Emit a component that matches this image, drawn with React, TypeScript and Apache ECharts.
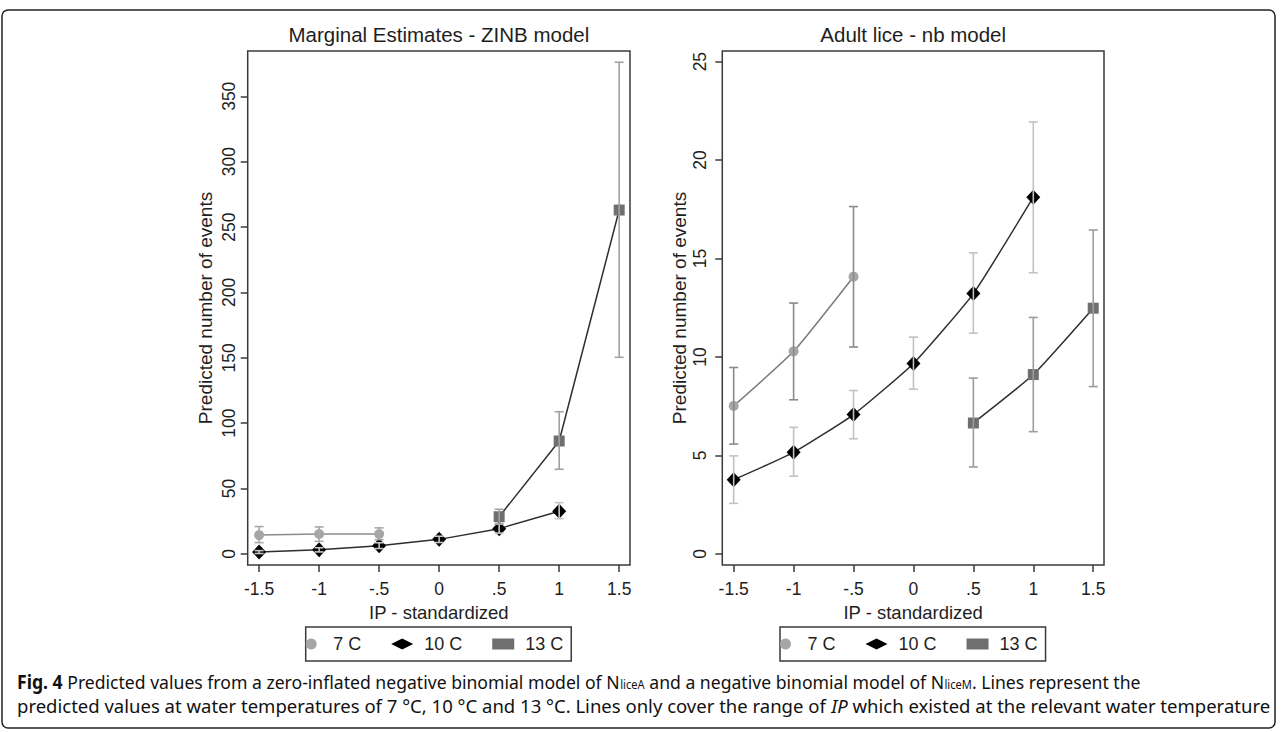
import React, { useEffect, useRef } from "react";
import * as echarts from "echarts";

// ---------- data ----------
const xValues = [-1.5, -1, -0.5, 0, 0.5, 1, 1.5];
const xTickLabels = ["-1.5", "-1", "-.5", "0", ".5", "1", "1.5"];
const leftYTicks = [0, 50, 100, 150, 200, 250, 300, 350];
const rightYTicks = [0, 5, 10, 15, 20, 25];
const seriesNames = ["7 C", "10 C", "13 C"];
const leftTitle = "Marginal Estimates - ZINB model";
const rightTitle = "Adult lice - nb model";
const xAxisName = "IP - standardized";
const yAxisName = "Predicted number of events";

// Marginal estimates - ZINB model
const zinb7 = [14.5, 15.3, 15.3, null, null, null, null];
const zinb7Low = [8.7, 9.7, 11.0, null, null, null, null];
const zinb7High = [21.0, 20.7, 20.0, null, null, null, null];
const zinb10 = [1.5, 3.2, 6.4, 11.2, 19.4, 32.7, null];
const zinb10Low = [0.4, 1.6, 4.2, 8.8, 16.0, 27.0, null];
const zinb10High = [2.6, 4.8, 8.6, 13.6, 22.8, 39.3, null];
const zinb13 = [null, null, null, null, 28.5, 86.4, 263.0];
const zinb13Low = [null, null, null, null, 23.0, 64.8, 150.4];
const zinb13High = [null, null, null, null, 34.2, 108.8, 376.0];

// Adult lice - nb model
const nb7 = [7.52, 10.29, 14.08, null, null, null, null];
const nb7Low = [5.58, 7.83, 10.51, null, null, null, null];
const nb7High = [9.47, 12.74, 17.64, null, null, null, null];
const nb10 = [3.77, 5.16, 7.08, 9.67, 13.22, 18.12, null];
const nb10Low = [2.57, 3.95, 5.85, 8.37, 11.21, 14.28, null];
const nb10High = [4.98, 6.43, 8.3, 11.01, 15.29, 21.94, null];
const nb13 = [null, null, null, null, 6.65, 9.11, 12.48];
const nb13Low = [null, null, null, null, 4.42, 6.21, 8.5];
const nb13High = [null, null, null, null, 8.93, 12.01, 16.45];

const captionBold = "Fig. 4";
const captionLine1 =
  "{b|Fig. 4} Predicted values from a zero-inflated negative binomial model of N{s|liceA} and a negative binomial model of N{s|liceM}. Lines represent the";
const captionLine2 =
  "predicted values at water temperatures of 7 °C, 10 °C and 13 °C. Lines only cover the range of {i|IP} which existed at the relevant water temperature";

// ---------- helpers ----------
const pts = (vals: (number | null)[]) =>
  xValues.map((x, i) => [x, vals[i]]).filter((p) => p[1] != null);
const cis = (lo: (number | null)[], hi: (number | null)[]) =>
  xValues.map((x, i) => [x, lo[i], hi[i]]).filter((p) => p[1] != null);

const FONT = "'Liberation Sans', Arial, Helvetica, sans-serif";
const CAP_FAMILY = "'Noto Sans', 'Open Sans', sans-serif";
const FRAME = "#3a3a3a";
const TXT = "#1e1e1e";

const symbols = ["circle", "diamond", "rect"];
const symbolSizes: any[] = [10, [14, 15], 11];
const markerColors = ["#a6a6a6", "#000000", "#6f6f6f"];
const lineColorsLeft = ["#8c8c8c", "#2e2e2e", "#2e2e2e"];
const lineColorsRight = ["#7a7a7a", "#2e2e2e", "#2e2e2e"];
const ciColorsLeft = ["#a8a8a8", "#c6c6c6", "#a2a2a2"];
const ciColorsRight = ["#8a8a8a", "#c2c2c2", "#9c9c9c"];

function lineSeries(k: number, vals: (number | null)[], axis: number, lineColor: string, smooth: number) {
  return {
    type: "line",
    name: seriesNames[k],
    xAxisIndex: axis,
    yAxisIndex: axis,
    data: pts(vals),
    symbol: symbols[k],
    symbolSize: symbolSizes[k],
    smooth,
    z: 3,
    itemStyle: { color: markerColors[k], borderWidth: 0 },
    lineStyle: { color: lineColor, width: 1.5 },
    emphasis: { disabled: true },
  };
}

function ciSeries(k: number, lo: (number | null)[], hi: (number | null)[], axis: number, color: string) {
  return {
    type: "custom",
    name: seriesNames[k] + " CI",
    xAxisIndex: axis,
    yAxisIndex: axis,
    z: 5,
    data: cis(lo, hi),
    encode: { x: 0, y: [1, 2] },
    renderItem: (_params: any, api: any) => {
      const x = api.value(0);
      const pLo = api.coord([x, api.value(1)]);
      const pHi = api.coord([x, api.value(2)]);
      const hw = 4.5;
      const st = { stroke: color, lineWidth: 1.6 };
      return {
        type: "group",
        children: [
          { type: "line", shape: { x1: pLo[0], y1: pLo[1], x2: pHi[0], y2: pHi[1] }, style: st },
          { type: "line", shape: { x1: pLo[0] - hw, y1: pLo[1], x2: pLo[0] + hw, y2: pLo[1] }, style: st },
          { type: "line", shape: { x1: pHi[0] - hw, y1: pHi[1], x2: pHi[0] + hw, y2: pHi[1] }, style: st },
        ],
      };
    },
  };
}

function xAxis(gridIndex: number) {
  return {
    type: "value",
    gridIndex,
    min: -1.595,
    max: 1.59,
    name: xAxisName,
    nameLocation: "middle",
    nameGap: 29,
    nameTextStyle: { fontSize: 18.5, color: TXT, fontFamily: FONT },
    axisLine: { show: false, onZero: false },
    axisTick: { show: true, inside: false, length: 7, customValues: xValues, lineStyle: { color: FRAME, width: 1.5 } },
    axisLabel: {
      show: true,
      margin: 15,
      fontSize: 17.5,
      color: TXT,
      fontFamily: FONT,
      customValues: xValues,
      formatter: (v: number) => {
        const i = xValues.findIndex((x) => Math.abs(x - v) < 1e-9);
        return i >= 0 ? xTickLabels[i] : "";
      },
    },
    splitLine: { show: false },
  };
}

function yAxis(gridIndex: number, min: number, max: number, ticks: number[], margin: number) {
  return {
    type: "value",
    gridIndex,
    min,
    max,
    name: yAxisName,
    nameLocation: "middle",
    nameGap: 33,
    nameTextStyle: { fontSize: 19, color: TXT, fontFamily: FONT },
    axisLine: { show: false, onZero: false },
    axisTick: { show: true, inside: false, length: 7, customValues: ticks, lineStyle: { color: FRAME, width: 1.5 } },
    axisLabel: {
      show: true,
      rotate: 90,
      margin,
      fontSize: 17.5,
      color: TXT,
      fontFamily: FONT,
      customValues: ticks,
      formatter: (v: number) => String(v),
    },
    splitLine: { show: false },
  };
}

function legend(left: number) {
  return {
    left,
    top: 627,
    orient: "horizontal",
    selectedMode: false,
    borderColor: FRAME,
    borderWidth: 1.5,
    borderRadius: 0,
    padding: [8, 8, 8, 0],
    itemWidth: 22,
    itemHeight: 11,
    itemGap: 30,
    textStyle: { fontSize: 18, color: TXT, fontFamily: FONT, padding: [0, 0, 0, 6] },
    data: seriesNames.map((n, k) => ({ name: n, icon: symbols[k] })),
  };
}

export default function App() {
  const ref = useRef<HTMLDivElement>(null);

  useEffect(() => {
    if (!ref.current) return;
    const prevMargin = document.body.style.margin;
    document.body.style.margin = "0";
    const chart = echarts.init(ref.current, undefined, { renderer: "svg" });

    // caption compression to fit the figure width (the original uses a condensed face)
    const capFont = `19px ${CAP_FAMILY}`;
    const ctx = document.createElement("canvas").getContext("2d");
    let scale1 = 0.87;
    let scale2 = 0.87;
    if (ctx) {
      ctx.font = capFont;
      const plain2 = captionLine2.replace(/\{i\|([^}]*)\}/g, "$1");
      const w2 = ctx.measureText(plain2).width;
      if (w2 > 0) scale2 = 1255 / w2;
      const rest1 = captionLine1
        .replace(/\{b\|[^}]*\}/, "")
        .replace(/\{s\|[^}]*\}/g, "");
      let w1 = ctx.measureText(rest1).width;
      ctx.font = `bold 19px ${CAP_FAMILY}`;
      w1 += ctx.measureText(captionBold).width;
      ctx.font = `12px ${CAP_FAMILY}`;
      w1 += ctx.measureText("liceA").width + ctx.measureText("liceM").width;
      if (w1 > 0) scale1 = 1124 / w1;
    }
    const rich = {
      b: { font: `bold 19px ${CAP_FAMILY}`, fill: "#111" },
      s: { font: `12px ${CAP_FAMILY}`, fill: "#111", verticalAlign: "bottom", padding: [6, 0, 0, 0] },
      i: { font: `italic 19px ${CAP_FAMILY}`, fill: "#111" },
    };

    const option: any = {
      animation: false,
      backgroundColor: "#ffffff",
      textStyle: { fontFamily: FONT },
      title: [
        { text: leftTitle, left: 438.9, top: 24, textAlign: "center", padding: 0, textStyle: { fontSize: 20.5, fontWeight: "normal", color: TXT, fontFamily: FONT } },
        { text: rightTitle, left: 913.2, top: 24, textAlign: "center", padding: 0, textStyle: { fontSize: 20.5, fontWeight: "normal", color: TXT, fontFamily: FONT } },
      ],
      grid: [
        { left: 247.7, top: 51, width: 382.3, height: 514, show: true, borderColor: FRAME, borderWidth: 1.5, backgroundColor: "transparent", containLabel: false },
        { left: 722.3, top: 51, width: 381.7, height: 514, show: true, borderColor: FRAME, borderWidth: 1.5, backgroundColor: "transparent", containLabel: false },
      ],
      xAxis: [xAxis(0), xAxis(1)],
      yAxis: [yAxis(0, -8.4, 384.6, leftYTicks, 10), yAxis(1, -0.56, 25.54, rightYTicks, 13)],
      legend: [legend(305.7), legend(780)],
      tooltip: { show: false },
      series: [
        lineSeries(0, zinb7, 0, lineColorsLeft[0], 0),
        lineSeries(1, zinb10, 0, lineColorsLeft[1], 0),
        lineSeries(2, zinb13, 0, lineColorsLeft[2], 0),
        ciSeries(0, zinb7Low, zinb7High, 0, ciColorsLeft[0]),
        ciSeries(1, zinb10Low, zinb10High, 0, ciColorsLeft[1]),
        ciSeries(2, zinb13Low, zinb13High, 0, ciColorsLeft[2]),
        lineSeries(0, nb7, 1, lineColorsRight[0], 0.15),
        lineSeries(1, nb10, 1, lineColorsRight[1], 0.15),
        lineSeries(2, nb13, 1, lineColorsRight[2], 0.15),
        ciSeries(0, nb7Low, nb7High, 1, ciColorsRight[0]),
        ciSeries(1, nb10Low, nb10High, 1, ciColorsRight[1]),
        ciSeries(2, nb13Low, nb13High, 1, ciColorsRight[2]),
      ],
      graphic: [
        {
          type: "rect",
          shape: { x: 2, y: 10, width: 1273, height: 718, r: 6 },
          style: { fill: "none", stroke: "#222", lineWidth: 1.5 },
          silent: true,
        },
        {
          type: "text",
          x: 17,
          y: 681,
          scaleX: scale1,
          style: { text: captionLine1, font: capFont, fill: "#111", verticalAlign: "middle", align: "left", rich },
          silent: true,
        },
        {
          type: "text",
          x: 17,
          y: 705,
          scaleX: scale2,
          style: { text: captionLine2, font: capFont, fill: "#111", verticalAlign: "middle", align: "left", rich },
          silent: true,
        },
      ],
    };

    chart.setOption(option);
    return () => {
      chart.dispose();
      document.body.style.margin = prevMargin;
    };
  }, []);

  return <div ref={ref} style={{ width: 1281, height: 732, background: "#fff" }} />;
}
